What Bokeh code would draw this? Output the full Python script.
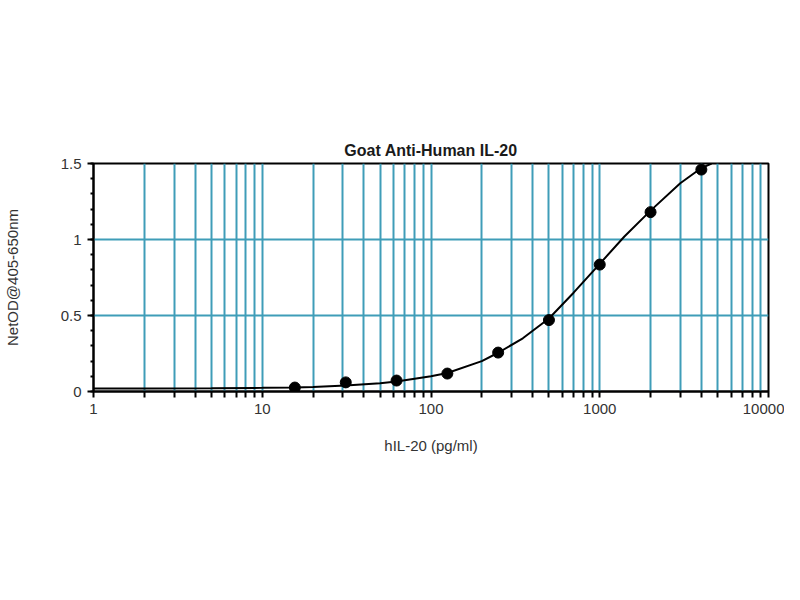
from bokeh.plotting import figure
from bokeh.models import Range1d, FixedTicker, CustomJSTickFormatter
from bokeh.embed import file_html
from bokeh.resources import INLINE

# Standard points (hIL-20 pg/ml vs NetOD)
conc = [15.6, 31.25, 62.5, 125, 250, 500, 1000, 2000, 4000]
od = [0.026, 0.06, 0.072, 0.118, 0.256, 0.47, 0.835, 1.18, 1.46]

# Fitted curve
curve_x = [1, 2, 5, 10, 15.6, 20, 31.25, 50, 62.5, 100, 125, 200, 250, 350, 500,
           700, 1000, 1400, 2000, 3000, 4000, 4600]
curve_y = [0.02, 0.02, 0.022, 0.024, 0.027, 0.03, 0.04, 0.055, 0.066, 0.1, 0.122,
           0.2, 0.255, 0.35, 0.48, 0.65, 0.84, 1.02, 1.19, 1.37, 1.47, 1.5]

x_major = [1, 10, 100, 1000, 10000]
x_minor = [m * d for d in [1, 10, 100, 1000] for m in range(2, 10)]
y_major = [0, 0.5, 1, 1.5]
y_minor = [i / 10 for i in range(0, 16)]

title = "Goat Anti-Human IL-20"
x_label = "hIL-20 (pg/ml)"
y_label = "NetOD@405-650nm"

FONT = "Liberation Sans"
GRID = "#3f9db8"
TXT = "#333333"

p = figure(width=784, height=580, x_axis_type="log", output_backend="svg",
           toolbar_location=None, title=title,
           x_range=Range1d(1, 10000), y_range=Range1d(0, 1.5),
           min_border_left=92, min_border_right=16, min_border_top=163,
           min_border_bottom=189)

p.title.align = "center"
p.title.text_font = FONT
p.title.text_font_size = "16px"
p.title.text_font_style = "bold"
p.title.text_color = "#1a1a1a"
p.title.standoff = 9

p.outline_line_color = "black"
p.outline_line_width = 2

# x axis
p.xaxis.ticker = FixedTicker(ticks=x_major, minor_ticks=x_minor)
p.xaxis.formatter = CustomJSTickFormatter(code="return String(tick);")
p.xaxis.axis_label = x_label
p.xaxis.axis_label_text_font = FONT
p.xaxis.axis_label_text_font_size = "15px"
p.xaxis.axis_label_text_font_style = "normal"
p.xaxis.axis_label_text_color = TXT
p.xaxis.axis_label_standoff = 20
p.xaxis.major_label_text_font = FONT
p.xaxis.major_label_text_font_size = "15px"
p.xaxis.major_label_text_color = TXT
p.xaxis.major_label_standoff = 6
p.xaxis.axis_line_width = 2
p.xaxis.major_tick_line_width = 2
p.xaxis.minor_tick_line_width = 2
p.xaxis.major_tick_out = 6
p.xaxis.major_tick_in = 0
p.xaxis.minor_tick_out = 6
p.xaxis.minor_tick_in = 0

# y axis
p.yaxis.ticker = FixedTicker(ticks=y_major, minor_ticks=y_minor)
p.yaxis.formatter = CustomJSTickFormatter(code="return String(tick);")
p.yaxis.axis_label = y_label
p.yaxis.axis_label_text_font = FONT
p.yaxis.axis_label_text_font_size = "15px"
p.yaxis.axis_label_text_font_style = "normal"
p.yaxis.axis_label_text_color = TXT
p.yaxis.axis_label_standoff = 37
p.yaxis.major_label_text_font = FONT
p.yaxis.major_label_text_font_size = "15px"
p.yaxis.major_label_text_color = TXT
p.yaxis.major_label_standoff = 6
p.yaxis.axis_line_width = 2
p.yaxis.major_tick_line_width = 2
p.yaxis.minor_tick_line_width = 2
p.yaxis.major_tick_out = 6
p.yaxis.major_tick_in = 0
p.yaxis.minor_tick_out = 3
p.yaxis.minor_tick_in = 0

# grids
p.xgrid.grid_line_color = GRID
p.xgrid.grid_line_width = 2
p.xgrid.minor_grid_line_color = GRID
p.xgrid.minor_grid_line_width = 2
p.ygrid.grid_line_color = GRID
p.ygrid.grid_line_width = 2
p.ygrid.minor_grid_line_color = None

p.line(curve_x, curve_y, line_color="black", line_width=2)
p.scatter(conc, od, size=11, fill_color="black", line_color="black")

open("out.html", "w").write(file_html(p, INLINE))
